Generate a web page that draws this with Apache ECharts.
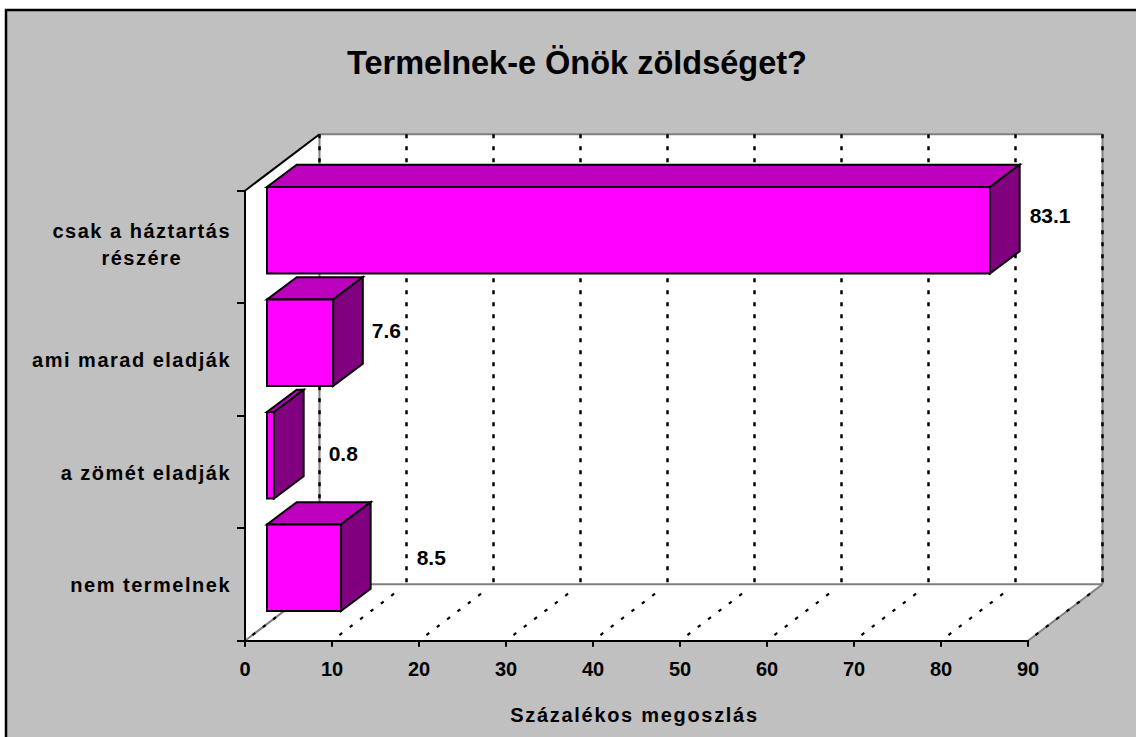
<!DOCTYPE html>
<html>
<head>
<meta charset="utf-8">
<style>
  html, body { margin: 0; padding: 0; background: #fff; }
  #main { width: 1136px; height: 737px; }
</style>
<script src="https://cdn.jsdelivr.net/npm/echarts@6/dist/echarts.min.js"></script>
</head>
<body>
<div id="main"></div>
<script>
const categories = ['csak a háztartás\nrészére', 'ami marad eladják', 'a zömét eladják', 'nem termelnek'];
const values = [83.1, 7.6, 0.8, 8.5];
const xTicks = [0, 10, 20, 30, 40, 50, 60, 70, 80, 90];
const titleText = 'Termelnek-e Önök zöldséget?';
const axisName = 'Százalékos megoszlás';

// label offsets from the bar's back corner, placed by hand in the original
const labelShift = [[10, 26], [9, 28], [25, 39], [46, 30]];

const font = '"Liberation Sans", Arial, sans-serif';
const wallDepth = [74.5, -56.5];
const barDepth = [29.7, -22.3];
const barShift = [22, -16.7];
const barFill = 0.77;
const labelRight = 231;

const chart = echarts.init(document.getElementById('main'), null, { renderer: 'svg' });

function line(x1, y1, x2, y2, style) {
  return { type: 'line', shape: { x1, y1, x2, y2 }, style: Object.assign({ fill: null }, style) };
}

function poly(points, fill, stroke) {
  return { type: 'polygon', shape: { points }, style: { fill, stroke, lineWidth: stroke ? 2 : 0, lineJoin: 'miter' } };
}

function renderWalls(params, api) {
  const c = params.coordSys;
  const [dx, dy] = wallDepth;
  const l = c.x, r = c.x + c.width, t = c.y, b = c.y + c.height;
  const grey = { stroke: '#808080', lineWidth: 2 };
  const wallDash = { stroke: '#000', lineWidth: 2.5, lineDash: [4, 8] };
  const floorDash = { stroke: '#000', lineWidth: 2.2, lineDash: [3.5, 9.5] };
  const children = [
    poly([[l, t], [l + dx, t + dy], [r + dx, t + dy], [r + dx, b + dy], [r, b], [l, b]], '#fff')
  ];
  children.push(
    line(l + dx, t + dy, r + dx, t + dy, grey),
    line(l + dx, t + dy, l + dx, b + dy, grey),
    line(l + dx, b + dy, r + dx, b + dy, grey),
    line(r + dx, t + dy, r + dx, b + dy, grey),
    line(l, b, l + dx, b + dy, grey),
    line(r, b, r + dx, b + dy, grey),
    line(l, t, l + dx, t + dy, { stroke: '#000', lineWidth: 2 })
  );
  xTicks.forEach(v => {
    const x = api.coord([v, 0])[0];
    children.push(line(x + dx, t + dy, x + dx, b + dy, wallDash));
    children.push(line(x + dx * 0.1, b + dy * 0.1, x + dx * 0.92, b + dy * 0.92, floorDash));
  });
  return { type: 'group', children };
}

function renderBar(params, api) {
  const i = api.value(1);
  const v = api.value(0);
  const band = api.size([0, 1])[1];
  const h = band * barFill;
  const center = api.coord([0, i]);
  const x0 = center[0] + barShift[0];
  const x1 = api.coord([v, i])[0] + barShift[0];
  const y0 = center[1] + barShift[1] - h / 2;
  const y1 = y0 + h;
  const [dx, dy] = barDepth;
  return {
    type: 'group',
    children: [
      poly([[x0, y0], [x1, y0], [x1 + dx, y0 + dy], [x0 + dx, y0 + dy]], '#BD00BD', '#000'),
      poly([[x1, y0], [x1 + dx, y0 + dy], [x1 + dx, y1 + dy], [x1, y1]], '#800080', '#000'),
      poly([[x0, y0], [x1, y0], [x1, y1], [x0, y1]], '#FF00FF', '#000'),
      {
        type: 'text',
        style: {
          text: String(v),
          x: x1 + dx + labelShift[i][0],
          y: y0 + dy + labelShift[i][1] + 25,
          fill: '#000',
          font: 'bold 21px ' + font,
          textAlign: 'left',
          textVerticalAlign: 'middle'
        }
      }
    ]
  };
}

chart.setOption({
  animation: false,
  backgroundColor: '#fff',
  graphic: [{
    type: 'rect',
    z: -10,
    shape: { x: 6, y: 10, width: 1140, height: 740 },
    style: { fill: '#C0C0C0', stroke: '#000', lineWidth: 2.5 }
  }],
  title: {
    text: titleText,
    left: 342,
    top: 41,
    textStyle: { fontFamily: font, fontWeight: 'bold', fontSize: 32.5, color: '#000' }
  },
  grid: { left: 245, top: 190.7, width: 783, height: 450 },
  xAxis: {
    type: 'value',
    min: 0,
    max: 90,
    interval: 10,
    z: 5,
    splitLine: { show: false },
    axisLine: { show: true, lineStyle: { color: '#000', width: 2 } },
    axisTick: { show: true, length: 6, lineStyle: { color: '#000', width: 2 } },
    axisLabel: { margin: 18, color: '#000', fontFamily: font, fontWeight: 'bold', fontSize: 20 },
    name: axisName,
    nameLocation: 'middle',
    nameGap: 64,
    nameTextStyle: { color: '#000', fontFamily: font, fontWeight: 'bold', fontSize: 20 }
  },
  yAxis: {
    type: 'category',
    inverse: true,
    data: categories,
    z: 5,
    splitLine: { show: false },
    axisLine: { show: true, lineStyle: { color: '#000', width: 2 } },
    axisTick: { show: true, length: 8, lineStyle: { color: '#000', width: 2 } },
    axisLabel: {
      margin: 14,
      color: '#000',
      fontFamily: font,
      fontWeight: 'bold',
      fontSize: 20,
      lineHeight: 27,
      formatter: v => v.split('\n').map(s => '{a|' + s + '}').join('\n'),
      rich: { a: { align: 'center', color: '#000', fontFamily: font, fontWeight: 'bold', fontSize: 20, lineHeight: 27 } }
    }
  },
  series: [
    { type: 'custom', z: 1, renderItem: renderWalls, data: [[0, 0]], encode: { x: 0, y: 1 }, silent: true },
    { type: 'custom', z: 2, renderItem: renderBar, data: values.map((v, i) => [v, i]), encode: { x: 0, y: 1 }, silent: true }
  ]
});

// the original stretches the axis captions; canvas text has no spacing option, svg text does
const texts = Array.from(document.querySelectorAll('#main text'));
const nameText = texts.find(t => t.textContent === axisName);
if (nameText) {
  nameText.style.letterSpacing = '1.7px';
  nameText.style.translate = '-2px 0';
}
categories.forEach(c => {
  const lines = c.split('\n').map(s => texts.find(t => t.textContent === s)).filter(Boolean);
  lines.forEach(t => { t.style.letterSpacing = '1.5px'; });
  // spacing pushes the text past the axis margin, pull the block back
  const right = Math.max(...lines.map(t => t.getBoundingClientRect().right));
  lines.forEach(t => { t.style.translate = (labelRight - right) + 'px ' + (lines.length > 1 ? -2 : 1) + 'px'; });
});
</script>
</body>
</html>
